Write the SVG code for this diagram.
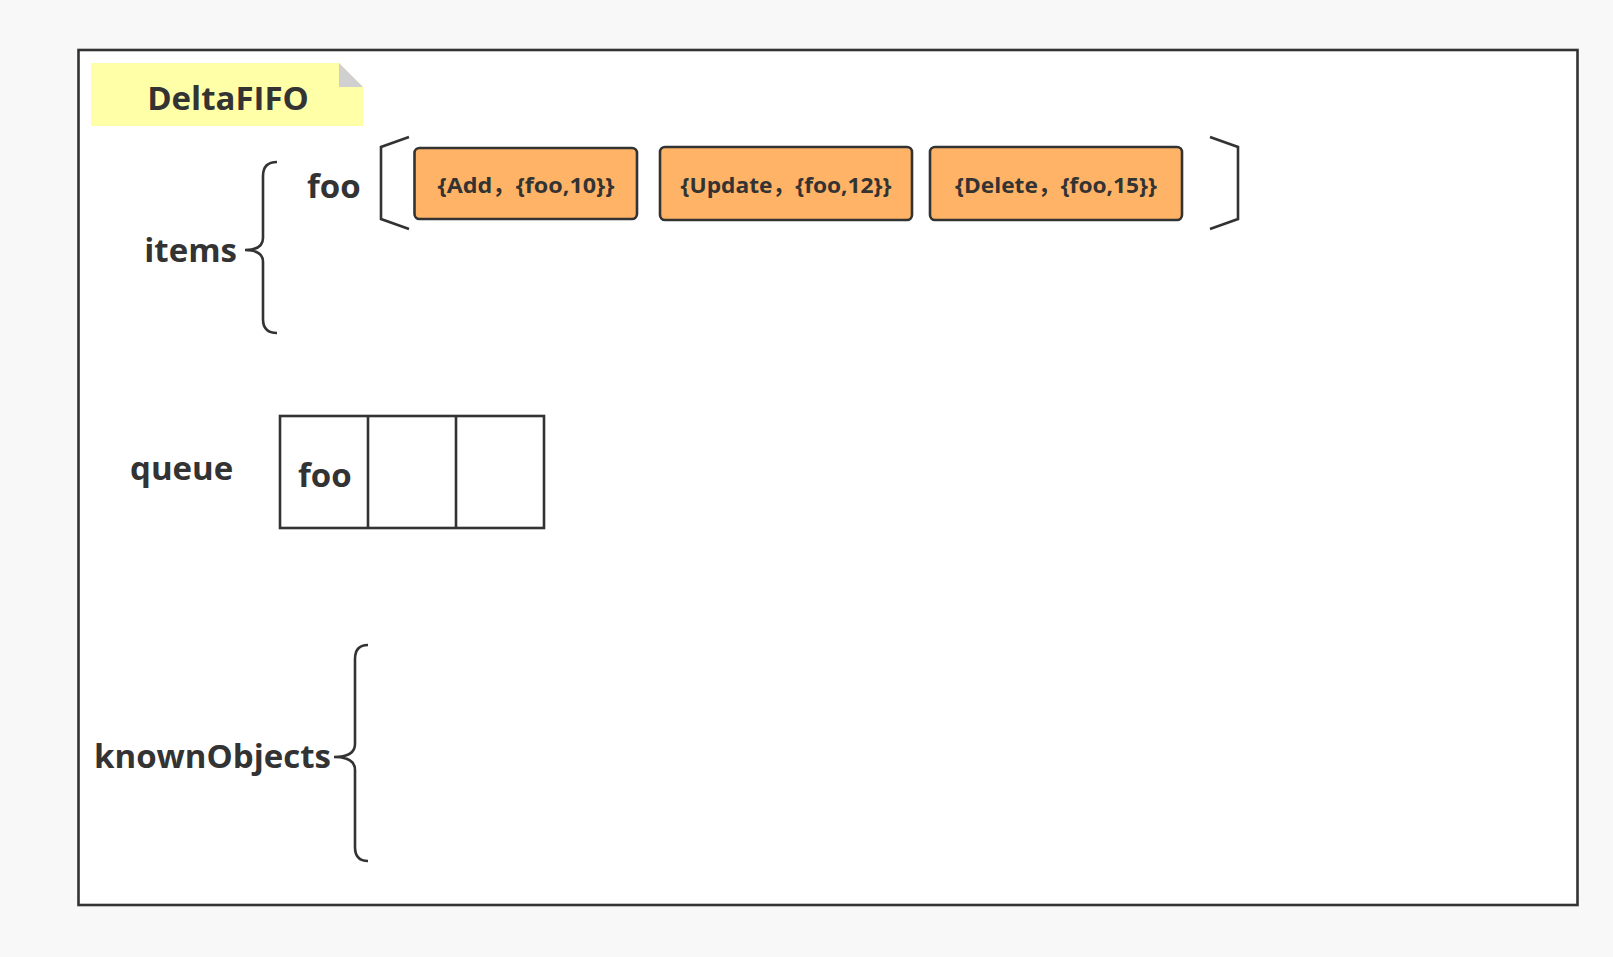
<svg xmlns="http://www.w3.org/2000/svg" width="1613" height="957" viewBox="0 0 1613 957">
<style>
.t{font-family:"Open Sans","Noto Sans CJK SC",sans-serif;font-weight:bold;fill:#333}
.big{font-size:33px}
.lbl{font-size:22px;text-anchor:middle}
.ln{fill:none;stroke:#333;stroke-width:2.6}
.box{fill:#FFB366;stroke:#333;stroke-width:2.6}
</style>
<rect x="0" y="0" width="1613" height="957" fill="#F8F8F8"/>
<g id="frame">
<rect x="78.5" y="50" width="1499" height="855" fill="#FFFFFF" stroke="#333" stroke-width="2.6"/>
</g>
<g id="title">
<polygon points="91,63 339,63 363,87 363,126 91,126" fill="#FFFFA8"/>
<polygon points="339,63 339,87 363,87" fill="#D0D0D0"/>
<text class="t big" x="228" y="110" text-anchor="middle">DeltaFIFO</text>
</g>
<g id="items">
<text class="t big" x="237" y="262" text-anchor="end">items</text>
<path class="ln" d="M277,162 Q263,162 263,176 L263,238 Q263,250 245,250 Q263,250 263,262 L263,319 Q263,333 277,333"/>
</g>
<g id="foo-key">
<text class="t big" x="307" y="198">foo</text>
<path class="ln" d="M409,137 L381,147 L381,219 L409,229"/>
<path class="ln" d="M1210,137 L1238,147 L1238,219 L1210,229"/>
</g>
<g id="delta-add">
<rect class="box" x="414.5" y="148" width="222.5" height="71" rx="5"/>
<text class="t lbl" x="526" y="193" textLength="177" lengthAdjust="spacingAndGlyphs">{Add，{foo,10}}</text>
</g>
<g id="delta-update">
<rect class="box" x="660" y="147" width="252" height="73" rx="5"/>
<text class="t lbl" x="786" y="193" textLength="211" lengthAdjust="spacingAndGlyphs">{Update，{foo,12}}</text>
</g>
<g id="delta-delete">
<rect class="box" x="930" y="147" width="252" height="73" rx="5"/>
<text class="t lbl" x="1056" y="193" textLength="202" lengthAdjust="spacingAndGlyphs">{Delete，{foo,15}}</text>
</g>
<g id="queue">
<text class="t big" x="130" y="480">queue</text>
<rect class="ln" x="280" y="416" width="264" height="112" fill="#FFFFFF"/>
<line class="ln" x1="368" y1="416" x2="368" y2="528"/>
<line class="ln" x1="456" y1="416" x2="456" y2="528"/>
<text class="t big" x="298" y="487">foo</text>
</g>
<g id="knownObjects">
<text class="t big" x="94" y="768">knownObjects</text>
<path class="ln" d="M368,645 Q355,645 355,659 L355,744 Q355,757 334,757 Q355,757 355,770 L355,847 Q355,861 368,861"/>
</g>
<g id="connectors"></g>
</svg>
